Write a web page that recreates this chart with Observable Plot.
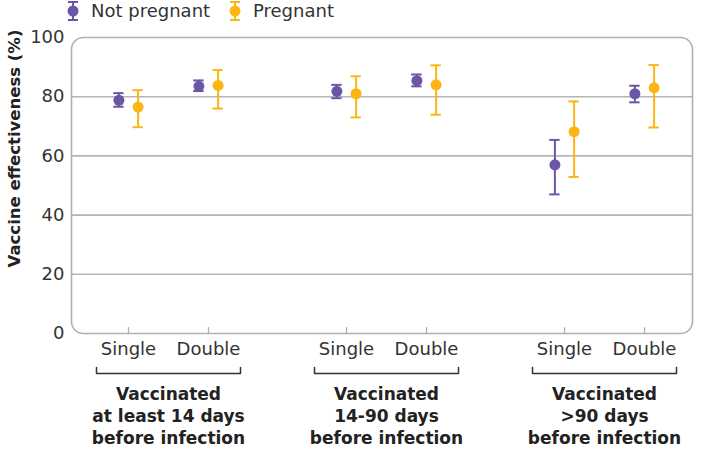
<!DOCTYPE html>
<html>
<head>
<meta charset="utf-8">
<script src="https://cdn.jsdelivr.net/npm/d3@7"></script>
<script src="https://cdn.jsdelivr.net/npm/@observablehq/plot@0.6"></script>
<style>
  html, body { margin: 0; padding: 0; background: #fff; }
  body { width: 703px; height: 449px; overflow: hidden; font-family: "DejaVu Sans", sans-serif; }
  #legend { position: relative; height: 18px; font-size: 18px; line-height: 22px; color: #333; z-index: 1; }
  .item { position: absolute; top: 0; display: flex; align-items: flex-start; }
  .item svg { display: block; margin-right: 11px; }
</style>
</head>
<body>
<div id="legend"></div>
<div id="chart"></div>
<script>
// ---- data ----
const groups = [
  "Vaccinated\nat least 14 days\nbefore infection",
  "Vaccinated\n14-90 days\nbefore infection",
  "Vaccinated\n>90 days\nbefore infection"
];
const doses = ["Single", "Double"];
const series = ["Not pregnant", "Pregnant"];
const colors = ["#6b55a6", "#fdb515"];
// order: group1 Single, group1 Double, group2 Single, group2 Double, group3 Single, group3 Double
const notPregnantEst  = [78.8, 83.5, 81.8, 85.4, 57.0, 81.0];
const notPregnantLow  = [76.6, 81.9, 79.5, 83.5, 47.0, 78.1];
const notPregnantHigh = [81.2, 85.5, 84.0, 87.5, 65.4, 83.7];
const pregnantEst  = [76.5, 83.8, 81.0, 84.0, 68.2, 83.0];
const pregnantLow  = [69.7, 76.0, 73.0, 73.9, 52.9, 69.6];
const pregnantHigh = [82.2, 89.0, 86.9, 90.6, 78.4, 90.7];
const yTicks = [0, 20, 40, 60, 80, 100];
const yLabel = "Vaccine effectiveness (%)";

// ---- layout helpers (category -> numeric position on x) ----
const groupStep = 2.725;      // distance between groups, in units of dose spacing
const seriesOffset = 0.12;
const capHalf = 0.065;
const bracketHalf = 0.9;
const pos = (g, d) => g * groupStep + d;

const tickRows = [];
groups.forEach((g, gi) => doses.forEach((d, di) => tickRows.push({x: pos(gi, di), dose: d})));

const est = [notPregnantEst, pregnantEst], low = [notPregnantLow, pregnantLow], high = [notPregnantHigh, pregnantHigh];
const rows = [];
series.forEach((s, si) => {
  groups.forEach((g, gi) => doses.forEach((d, di) => {
    const k = gi * doses.length + di;
    rows.push({
      series: s,
      x: pos(gi, di) + (si === 0 ? -seriesOffset : seriesOffset),
      est: est[si][k], low: low[si][k], high: high[si][k]
    });
  }));
});

const groupRows = groups.map((g, gi) => ({label: g, cx: (pos(gi, 0) + pos(gi, 1)) / 2}));
const bracketPts = [];
groupRows.forEach((r, gi) => {
  const a = pos(gi, 0) + 0.5 - bracketHalf, b = pos(gi, 1) - 0.5 + bracketHalf;
  bracketPts.push({g: gi, x: a, y: 2}, {g: gi, x: a, y: 0}, {g: gi, x: b, y: 0}, {g: gi, x: b, y: 2});
});

// ---- legend ----
const legend = document.getElementById("legend");
const legendLeft = [66, 228];
series.forEach((s, i) => {
  const it = document.createElement("div");
  it.className = "item";
  it.style.left = legendLeft[i] + "px";
  it.innerHTML = `<svg width="14" height="22" viewBox="0 0 14 22">
    <line x1="7" y1="2" x2="7" y2="20" stroke="${colors[i]}" stroke-width="2"/>
    <line x1="2" y1="2" x2="12" y2="2" stroke="${colors[i]}" stroke-width="2"/>
    <line x1="2" y1="20" x2="12" y2="20" stroke="${colors[i]}" stroke-width="2"/>
    <circle cx="7" cy="11" r="5.5" fill="${colors[i]}"/></svg><span>${s}</span>`;
  legend.appendChild(it);
});

// ---- chart ----
const chart = Plot.plot({
  width: 703,
  height: 431,
  marginTop: 19,
  marginBottom: 116,
  marginLeft: 71,
  marginRight: 11,
  style: {fontFamily: "'DejaVu Sans', sans-serif", color: "#333", background: "transparent"},
  x: {domain: [-0.7125, 7.05], axis: null},
  y: {domain: [0, 100], axis: null},
  color: {domain: series, range: colors},
  marks: [
    Plot.ruleY(yTicks.filter(t => t > 0 && t < 100), {stroke: "#b5b5b5", strokeWidth: 1.6}),
    Plot.frame({rx: 12, stroke: "#b0b0b0", strokeWidth: 1.6}),
    Plot.ruleX(tickRows, {x: "x", y1: 0, y2: 2, stroke: "#b0b0b0", strokeWidth: 1.3}),
    Plot.text(tickRows, {x: "x", y: 0, text: "dose", dy: 9, lineAnchor: "top", fontSize: 18, fill: "#333"}),
    Plot.line(bracketPts, {x: "x", y: "y", z: "g", dy: 40, stroke: "#333", strokeWidth: 1.5}),
    Plot.text(groupRows, {x: "cx", y: 0, text: "label", dy: 51, lineAnchor: "top", lineHeight: 1.29, fontSize: 17, fontWeight: "bold", fill: "#222"}),
    Plot.axisY({ticks: yTicks, tickSize: 0, tickPadding: 7, fontSize: 18, label: null, fill: "#333"}),
    Plot.text([yLabel], {frameAnchor: "top-left", textAnchor: "middle", lineAnchor: "middle", text: d => d, rotate: -90, dx: -57, dy: 111, fontSize: 16.5, fontWeight: "bold", fill: "#222"}),
    Plot.ruleX(rows, {x: "x", y1: "low", y2: "high", stroke: "series", strokeWidth: 2}),
    Plot.ruleY(rows, {y: "low", x1: d => d.x - capHalf, x2: d => d.x + capHalf, stroke: "series", strokeWidth: 2}),
    Plot.ruleY(rows, {y: "high", x1: d => d.x - capHalf, x2: d => d.x + capHalf, stroke: "series", strokeWidth: 2}),
    Plot.dot(rows, {x: "x", y: "est", r: 5.5, fill: "series"})
  ]
});
document.getElementById("chart").appendChild(chart);
</script>
</body>
</html>
